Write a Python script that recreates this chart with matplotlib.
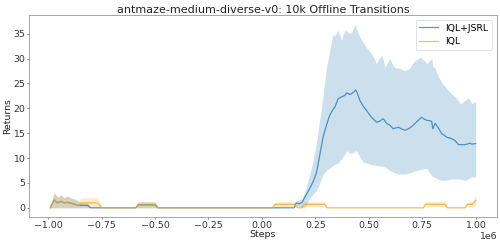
import numpy as np
import matplotlib
matplotlib.use("Agg")
import matplotlib.pyplot as plt

# steps in units of 1e6
steps_jsrl = [-0.99, -0.972, -0.956, -0.94, -0.925, -0.91, -0.89, -0.875, -0.86, -0.85,
              -0.816, -0.80, -0.59, -0.58, -0.50, -0.485, 0.15, 0.16, 0.175, 0.19,
              0.20, 0.22, 0.239, 0.255, 0.27, 0.286, 0.301, 0.317, 0.333, 0.341,
              0.356, 0.372, 0.388, 0.396, 0.411, 0.419, 0.43, 0.438, 0.445, 0.458,
              0.473, 0.481, 0.489, 0.505, 0.513, 0.536, 0.55, 0.56, 0.567, 0.575,
              0.583, 0.598, 0.614, 0.63, 0.638, 0.655, 0.669, 0.69, 0.708, 0.724,
              0.739, 0.747, 0.76, 0.771, 0.785, 0.794, 0.799, 0.81, 0.826, 0.841,
              0.865, 0.888, 0.904, 0.919, 0.927, 0.951, 0.966, 0.974, 0.982, 1.0]
mean_jsrl = [0, 1.6, 1.0, 1.3, 1.0, 1.1, 0.9, 0.7, 0.5, 0.5,
             0.5, 0.0, 0, 0.6, 0.6, 0, 0, 1.0, 0.8, 1.2,
             2.1, 3.6, 5.2, 7.0, 10.5, 14.2, 16.5, 18.6, 19.8, 20.2,
             21.9, 22.3, 22.6, 23.1, 22.8, 22.9, 23.3, 23.7, 23.2, 21.6,
             20.5, 20.0, 19.6, 18.6, 18.2, 17.2, 17.4, 17.7, 17.9, 17.5,
             17.0, 16.6, 15.9, 16.1, 16.2, 15.8, 15.6, 16.0, 16.6, 17.3,
             17.9, 18.2, 17.8, 17.6, 17.5, 17.4, 15.9, 17.0, 16.0, 14.9,
             14.2, 13.9, 13.5, 12.7, 12.7, 12.7, 12.9, 13.0, 12.8, 12.9]
lo_jsrl = [0, 0, 0, 0, 0, 0, 0, 0, 0, 0,
           0, 0, 0, 0, 0, 0, 0, 0.5, 0.2, 0.0,
           0.0, 1.8, 2.8, 3.5, 5.0, 6.8, 7.5, 8.0, 8.5, 8.7,
           9.0, 9.8, 10.8, 11.5, 11.0, 10.9, 11.2, 11.5, 11.3, 10.3,
           9.2, 9.1, 9.0, 8.8, 8.7, 8.5, 8.4, 8.4, 8.3, 8.2,
           8.0, 7.5, 7.2, 6.9, 6.8, 6.8, 6.8, 7.0, 7.3, 7.5,
           7.7, 7.8, 7.9, 7.9, 7.0, 6.5, 6.3, 6.1, 5.7, 5.5,
           5.6, 5.8, 5.8, 5.8, 5.8, 5.5, 5.9, 6.1, 6.2, 6.2]
hi_jsrl = [0, 3.1, 2.1, 2.6, 2.0, 2.4, 1.9, 1.8, 1.4, 1.0,
           1.0, 0.0, 0, 1.2, 1.2, 0, 0, 1.3, 1.6, 2.0,
           3.1, 6.0, 9.5, 13.0, 17.6, 22.5, 28.0, 31.6, 35.0, 34.5,
           35.7, 33.7, 35.7, 35.5, 35.0, 35.3, 36.2, 36.9, 35.5, 34.3,
           33.2, 32.7, 32.2, 31.4, 31.0, 29.0, 30.2, 30.6, 29.8, 28.3,
           28.8, 30.0, 28.6, 28.0, 28.2, 27.8, 27.6, 28.0, 29.3, 29.8,
           30.3, 30.0, 29.5, 29.0, 29.6, 30.0, 28.5, 28.0, 26.3, 25.2,
           23.9, 22.9, 22.3, 21.5, 20.9, 21.6, 22.1, 21.5, 20.9, 21.4]

steps_iql = [-0.99, -0.972, -0.956, -0.94, -0.925, -0.91, -0.89, -0.875, -0.86, -0.855,
             -0.847, -0.769, -0.748, -0.59, -0.58, -0.50, -0.485, 0.05, 0.06, 0.153,
             0.169, 0.185, 0.195, 0.294, 0.304, 0.755, 0.765, 0.857, 0.867, 0.95,
             0.96, 0.985, 1.0]
mean_iql = [0, 1.6, 1.0, 1.3, 1.0, 1.1, 0.9, 0.7, 0.5, 0.5,
            1.0, 1.0, 0, 0, 0.6, 0.6, 0, 0, 0.7, 0.7,
            0, 0, 0.7, 0.7, 0, 0, 0.7, 0.7, 0, 0,
            0.7, 0.7, 1.5]
lo_iql = [0, 0, 0, 0, 0, 0, 0, 0, 0, 0,
          0, 0, 0, 0, 0, 0, 0, 0, 0.2, 0.2,
          0, 0, 0.2, 0.2, 0, 0, 0.2, 0.2, 0, 0,
          0.2, 0.2, 0.5]
hi_iql = [0, 3.1, 2.1, 2.6, 2.0, 2.4, 1.9, 1.8, 1.4, 1.5,
          2.0, 2.0, 0, 0, 1.2, 1.2, 0, 0, 1.2, 1.2,
          0, 0, 1.2, 1.2, 0, 0, 1.3, 1.3, 0, 0,
          1.2, 1.3, 2.5]

series = [
    ("IQL+JSRL", steps_jsrl, mean_jsrl, lo_jsrl, hi_jsrl, "tab:blue"),
    ("IQL", steps_iql, mean_iql, lo_iql, hi_iql, "#f5a623"),
]

fig, ax = plt.subplots(figsize=(10, 4.86), dpi=50)
fig.subplots_adjust(left=0.058, right=0.994, bottom=0.107, top=0.938)

for name, x, m, lo, hi, c in series:
    x = np.array(x) * 1e6
    ax.plot(x, m, color=c, lw=1.8, alpha=0.75, label=name)
    ax.fill_between(x, lo, hi, color=c, alpha=0.23, lw=0)

ax.set_title("antmaze-medium-diverse-v0: 10k Offline Transitions", fontsize=16, color="#222222", pad=3)
ax.set_xlabel("Steps", fontsize=13.5, labelpad=0, color="#222222")
ax.set_ylabel("Returns", fontsize=13.5, labelpad=2, color="#222222")
ax.tick_params(labelsize=13.5, colors="#333333", pad=2)
ax.xaxis.get_offset_text().set_fontsize(13.5)
ax.set_yticks([0, 5, 10, 15, 20, 25, 30, 35])
for s in ax.spines.values():
    s.set_color("#999999")
    s.set_linewidth(1.2)
ax.legend(loc="upper right", fontsize=13.5)

fig.savefig("out.png")
